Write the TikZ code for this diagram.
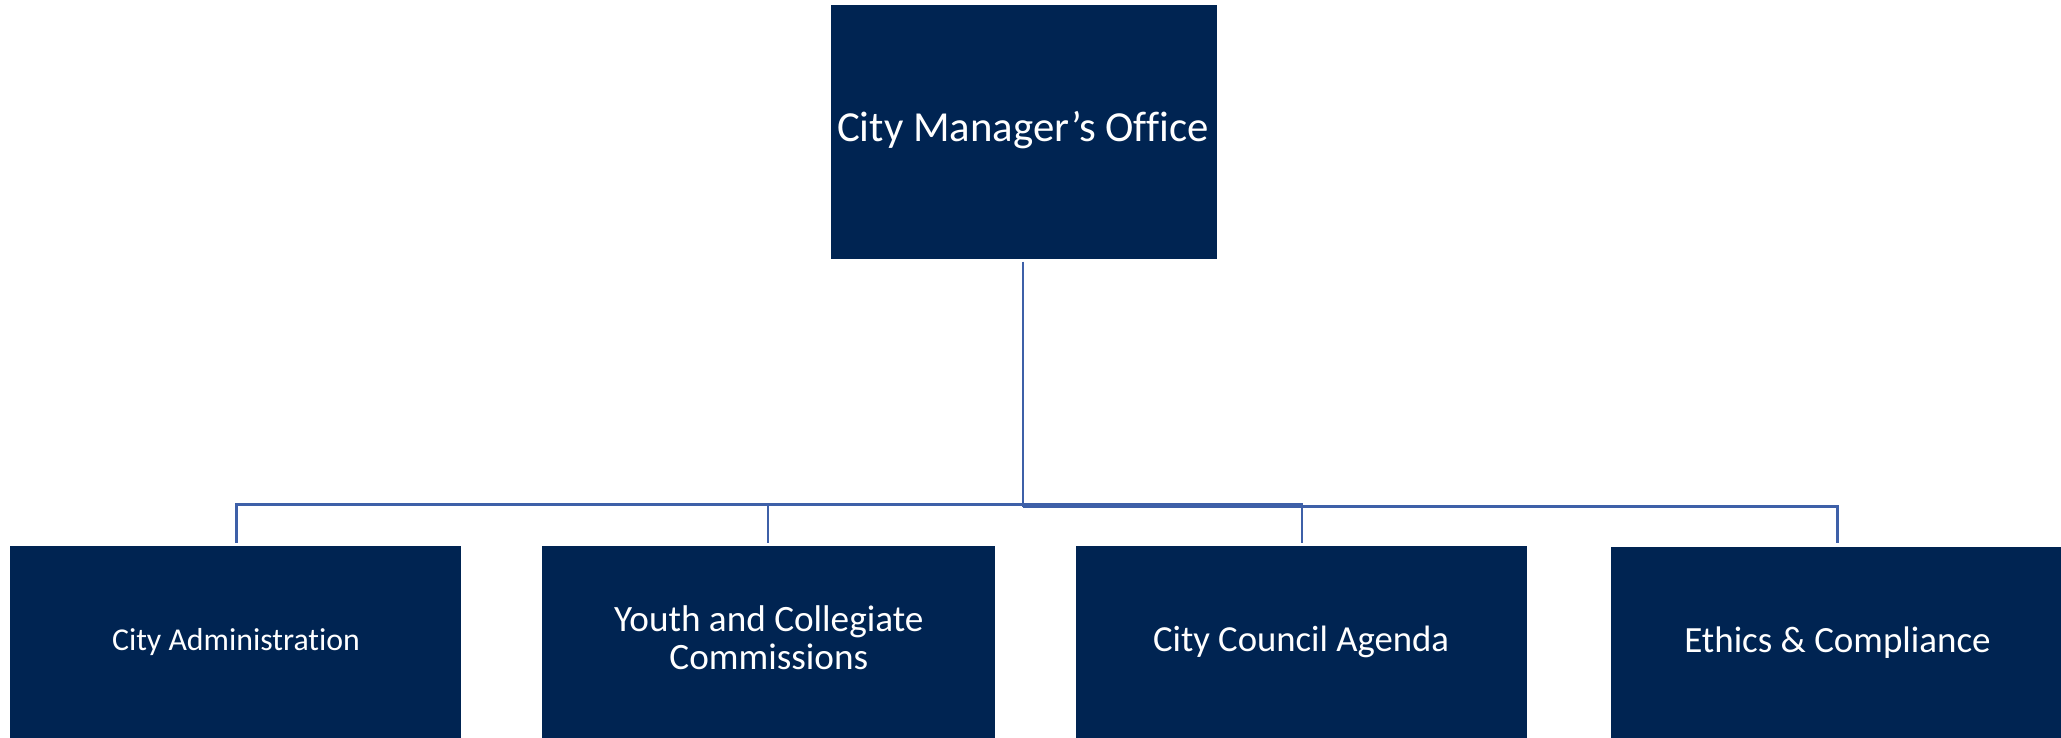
\documentclass[tikz,border=0pt]{standalone}
\usepackage{fontspec}
\setmainfont{Carlito}[Ligatures=NoCommon]
\definecolor{navy}{RGB}{0,36,82}
\definecolor{linkblue}{RGB}{62,96,168}
\begin{document}
\begin{tikzpicture}[x=1pt,y=-1pt,
  box/.style={fill=navy,draw=none,inner sep=0pt},
  lbl/.style={text=white,inner sep=0pt,anchor=base,align=center},
  link/.style={draw=linkblue,line width=2.2pt,line join=miter}]
\useasboundingbox (0,0) rectangle (2061,738);
% boxes
\node[box,minimum width=386pt,minimum height=254pt] (top) at (1024,132) {};
\node[box,minimum width=451pt,minimum height=192pt] (b1) at (235.5,642) {};
\node[box,minimum width=453pt,minimum height=192pt] (b2) at (768,642) {};
\node[box,minimum width=451pt,minimum height=192pt] (b3) at (1301,642) {};
\node[box,minimum width=450pt,minimum height=192pt] (b4) at (1836,642.5) {};
% labels
\node[lbl,font=\fontsize{42.8}{48}\selectfont] (t0) at (1023,141.7) {City Manager’s Office};
\node[lbl,font=\fontsize{31.8}{37}\selectfont] (t1) at (236,650.7) {City Administration};
\node[lbl,font=\fontsize{37.2}{37.3}\selectfont] (t2) at (768.8,669) {Youth and Collegiate\\Commissions};
\node[lbl,font=\fontsize{36.7}{41}\selectfont] (t3) at (1301,651.7) {City Council Agenda};
\node[lbl,font=\fontsize{37}{41}\selectfont] (t4) at (1837.5,652.7) {Ethics \& Compliance};
% connector coordinates
\coordinate (h1l) at (236.5,504.5);
\coordinate (h1m) at (768,504.5);
\coordinate (h1r) at (1302,504.5);
\coordinate (h2l) at (1023,506.5);
\coordinate (h2r) at (1837.5,506.5);
\coordinate (topout) at (1023,261.5);
% connectors
\draw[link] (topout) -- (h2l);
\draw[link] ([yshift=3pt]b1.north -| h1l) -- (h1l) -- (h1r) -- ([yshift=3pt]b3.north -| h1r);
\draw[link] (h1m) -- ([yshift=3pt]b2.north -| h1m);
\draw[link] (h2l) -- (h2r) -- ([yshift=3.5pt]b4.north -| h2r);
\end{tikzpicture}
\end{document}
